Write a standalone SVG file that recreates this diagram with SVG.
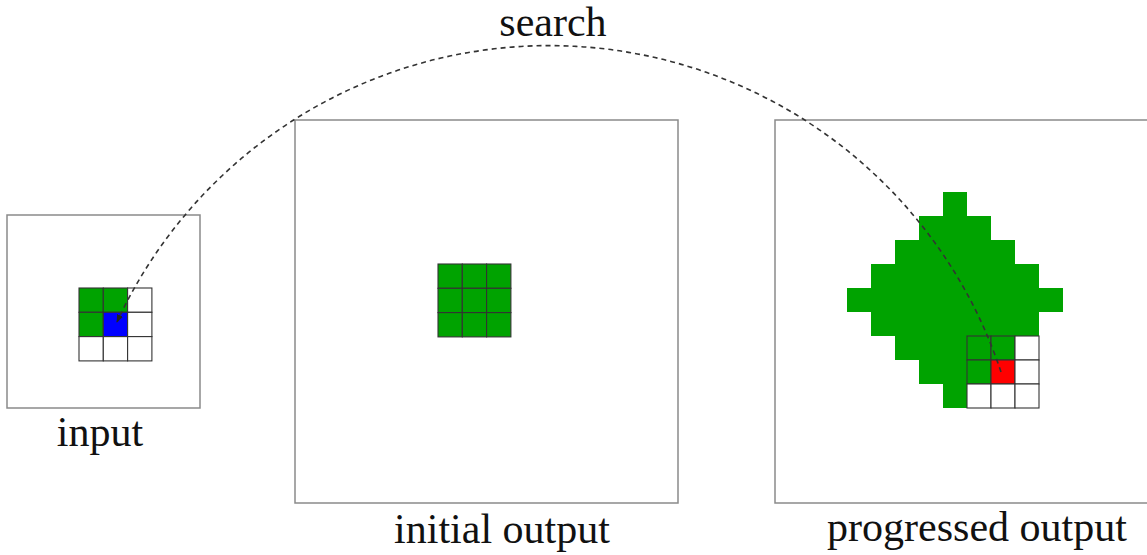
<svg xmlns="http://www.w3.org/2000/svg" width="1147" height="555" viewBox="0 0 1147 555">
<defs>
<style>
.frame{fill:#fff;stroke:#8a8a8a;stroke-width:1.5}
.g{fill:#00a300}
.b{fill:#0000ff}
.r{fill:#ff0000}
.w{fill:#fff}
.cell{stroke:#333;stroke-width:1.1}
.lbl{font-family:"Liberation Serif","Times New Roman",serif;font-size:42px;fill:#111;text-anchor:middle}
.arc{fill:none;stroke:#333;stroke-width:1.6;stroke-dasharray:5 4}
</style>
<marker id="ah" viewBox="0 0 10 10" refX="9" refY="5" markerWidth="5" markerHeight="5" orient="auto" markerUnits="strokeWidth">
<path d="M0,1 L10,5 L0,9 z" fill="#222"/>
</marker>
</defs>

<g id="input">
<rect class="frame" x="7" y="215" width="193" height="193"/>
<g class="cell">
<rect class="g" x="79" y="288" width="24.3" height="24.3"/>
<rect class="g" x="103.3" y="288" width="24.3" height="24.3"/>
<rect class="w" x="127.6" y="288" width="24.3" height="24.3"/>
<rect class="g" x="79" y="312.3" width="24.3" height="24.3"/>
<rect class="b" x="103.3" y="312.3" width="24.3" height="24.3"/>
<rect class="w" x="127.6" y="312.3" width="24.3" height="24.3"/>
<rect class="w" x="79" y="336.6" width="24.3" height="24.3"/>
<rect class="w" x="103.3" y="336.6" width="24.3" height="24.3"/>
<rect class="w" x="127.6" y="336.6" width="24.3" height="24.3"/>
</g>
<text class="lbl" x="100" y="446">input</text>
</g>

<g id="initial-output">
<rect class="frame" x="295" y="120" width="383" height="383"/>
<g class="cell">
<rect class="g" x="438" y="264" width="24.3" height="24.3"/>
<rect class="g" x="462.3" y="264" width="24.3" height="24.3"/>
<rect class="g" x="486.6" y="264" width="24.3" height="24.3"/>
<rect class="g" x="438" y="288.3" width="24.3" height="24.3"/>
<rect class="g" x="462.3" y="288.3" width="24.3" height="24.3"/>
<rect class="g" x="486.6" y="288.3" width="24.3" height="24.3"/>
<rect class="g" x="438" y="312.6" width="24.3" height="24.3"/>
<rect class="g" x="462.3" y="312.6" width="24.3" height="24.3"/>
<rect class="g" x="486.6" y="312.6" width="24.3" height="24.3"/>
</g>
<text class="lbl" x="502" y="543">initial output</text>
</g>

<g id="progressed-output">
<rect class="frame" x="775" y="120" width="384" height="383"/>
<path class="g" d="M943,192 H967 V216 H991 V240 H1015 V264 H1039 V288 H1063 V312 H1039 V336 H1015 V360 H991 V384 H967 V408 H943 V384 H919 V360 H895 V336 H871 V312 H847 V288 H871 V264 H895 V240 H919 V216 H943 Z"/>
<g class="cell">
<rect class="g" x="967" y="336" width="24" height="24"/>
<rect class="g" x="991" y="336" width="24" height="24"/>
<rect class="w" x="1015" y="336" width="24" height="24"/>
<rect class="g" x="967" y="360" width="24" height="24"/>
<rect class="r" x="991" y="360" width="24" height="24"/>
<rect class="w" x="1015" y="360" width="24" height="24"/>
<rect class="w" x="967" y="384" width="24" height="24"/>
<rect class="w" x="991" y="384" width="24" height="24"/>
<rect class="w" x="1015" y="384" width="24" height="24"/>
</g>
<text class="lbl" x="977" y="541">progressed output</text>
</g>

<g id="connectors">
<path class="arc" d="M1001,372 A476,476 0 0 0 117,322" marker-end="url(#ah)"/>
<text class="lbl" x="553" y="36">search</text>
</g>
</svg>
